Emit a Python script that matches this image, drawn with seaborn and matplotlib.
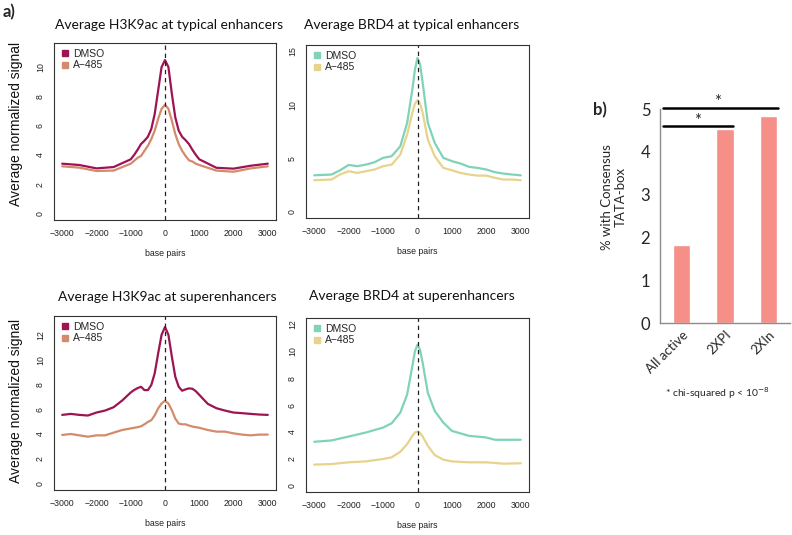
import numpy as np
import pandas as pd
import matplotlib
matplotlib.use("Agg")
import matplotlib.pyplot as plt
from matplotlib.lines import Line2D
import seaborn as sns

# ---------------- data ----------------
x_h3_typ = [-3000, -2500, -2000, -1500, -1000, -900, -800, -700, -600, -500, -400, -300, -200, -100, 0,
            100, 200, 300, 400, 500, 600, 700, 800, 900, 1000, 1500, 2000, 2500, 3000]
h3_typ_dmso = [3.40, 3.31, 3.08, 3.17, 3.70, 4.00, 4.35, 4.74, 4.97, 5.24, 5.77, 6.80, 8.40, 10.00, 10.48,
               10.00, 8.18, 6.57, 5.66, 5.24, 5.01, 4.74, 4.35, 4.00, 3.70, 3.12, 3.06, 3.26, 3.40]
h3_typ_a485 = [3.22, 3.13, 2.90, 2.93, 3.40, 3.60, 3.80, 3.93, 4.28, 4.62, 5.08, 5.66, 6.46, 7.15, 7.43,
               7.15, 6.34, 5.43, 4.74, 4.28, 3.93, 3.63, 3.55, 3.40, 3.31, 2.93, 2.85, 3.08, 3.22]

x_brd4_typ = [-3000, -2500, -2250, -2000, -1750, -1500, -1250, -1000, -750, -500, -300, -150, -75, 0, 75, 150,
              300, 500, 750, 1000, 1250, 1500, 1750, 2000, 2250, 2500, 2750, 3000]
brd4_typ_dmso = [3.40, 3.47, 3.87, 4.37, 4.25, 4.40, 4.62, 5.03, 5.19, 6.12, 8.31, 11.43, 13.30, 14.40, 13.80,
                 12.06, 8.31, 6.44, 5.03, 4.72, 4.50, 4.19, 4.09, 3.94, 3.69, 3.56, 3.47, 3.40]
brd4_typ_a485 = [2.94, 3.00, 3.47, 3.78, 3.62, 3.78, 3.94, 4.25, 4.40, 5.34, 7.22, 9.25, 10.10, 10.43, 10.10,
                 9.25, 6.75, 5.19, 4.09, 3.87, 3.62, 3.47, 3.37, 3.37, 3.16, 3.00, 3.00, 2.94]

x_h3_se = [-3000, -2750, -2500, -2250, -2000, -1750, -1500, -1250, -1000, -900, -800, -700, -600, -500, -400,
           -300, -200, -100, 0, 100, 200, 300, 400, 500, 600, 700, 800, 900, 1000, 1250, 1500, 1750, 2000,
           2250, 2500, 2750, 3000]
h3_se_dmso = [5.54, 5.62, 5.54, 5.49, 5.73, 5.89, 6.16, 6.70, 7.35, 7.55, 7.70, 7.81, 7.54, 7.54, 7.95,
              8.90, 10.50, 12.00, 12.63, 12.00, 10.24, 8.62, 7.81, 7.49, 7.60, 7.68, 7.65, 7.45, 7.16, 6.43,
              6.08, 5.89, 5.73, 5.68, 5.62, 5.57, 5.54]
h3_se_a485 = [3.92, 4.00, 3.89, 3.78, 3.89, 3.89, 4.11, 4.32, 4.45, 4.50, 4.55, 4.62, 4.78, 4.97, 5.11,
              5.51, 6.06, 6.46, 6.68, 6.46, 5.92, 5.24, 4.84, 4.78, 4.78, 4.68, 4.60, 4.55, 4.50, 4.32,
              4.19, 4.19, 4.05, 3.95, 3.89, 3.95, 3.95]

x_brd4_se = [-3000, -2500, -2000, -1500, -1000, -750, -500, -300, -150, -75, 0, 75, 150, 300, 500, 750, 1000,
             1500, 2000, 2250, 2500, 3000]
brd4_se_dmso = [3.26, 3.36, 3.65, 3.95, 4.32, 4.64, 5.43, 6.79, 8.89, 10.00, 10.49, 10.10, 9.14, 6.91, 5.56,
                4.69, 4.07, 3.70, 3.58, 3.41, 3.41, 3.41]
brd4_se_a485 = [1.56, 1.60, 1.73, 1.80, 1.98, 2.10, 2.52, 3.09, 3.70, 3.95, 4.03, 3.92, 3.65, 2.96, 2.27, 1.93,
                1.80, 1.73, 1.73, 1.68, 1.63, 1.66]

conditions = ["DMSO", "A\u2212485"]
panel_titles = ["Average H3K9ac at typical enhancers", "Average BRD4 at typical enhancers",
                "Average H3K9ac at superenhancers", "Average BRD4 at superenhancers"]
x_ticks = [-3000, -2000, -1000, 0, 1000, 2000, 3000]

bar_categories = ["All active", "2XPI", "2XIn"]
bar_values = [1.83, 4.53, 4.83]

# ---------------- style ----------------
sns.set_style("white")
R_FONT = ["Liberation Sans", "DejaVu Sans"]
C_FONT = ["Lato", "DejaVu Sans"]
plt.rcParams["font.family"] = R_FONT

W, H = 792, 535
fig = plt.figure(figsize=(W / 100, H / 100), dpi=100)


def px_axes(l, t, r, b):
    return fig.add_axes([l / W, 1 - b / H, (r - l) / W, (b - t) / H])


col_h3 = ["#9E1452", "#D38B6C"]
col_brd4 = ["#80D3B6", "#E6D38C"]

panels = [
    dict(box=(54, 43, 276, 220), x=x_h3_typ, d=h3_typ_dmso, a=h3_typ_a485, ylim=11.2,
         yt=[0, 2, 4, 6, 8, 10], cols=col_h3, tx=169, ty=25),
    dict(box=(306, 45, 529, 218), x=x_brd4_typ, d=brd4_typ_dmso, a=brd4_typ_a485, ylim=15,
         yt=[0, 5, 10, 15], cols=col_brd4, tx=412, ty=25),
    dict(box=(54, 316, 276, 490), x=x_h3_se, d=h3_se_dmso, a=h3_se_a485, ylim=13,
         yt=[0, 2, 4, 6, 8, 10, 12], cols=col_h3, tx=167, ty=297),
    dict(box=(306, 318, 529, 492), x=x_brd4_se, d=brd4_se_dmso, a=brd4_se_a485, ylim=12,
         yt=[0, 2, 4, 6, 8, 10, 12], cols=col_brd4, tx=412, ty=296),
]

for i, p in enumerate(panels):
    ax = px_axes(*p["box"])
    df = pd.DataFrame({
        "bp": list(p["x"]) * 2,
        "signal": list(p["d"]) + list(p["a"]),
        "cond": [conditions[0]] * len(p["x"]) + [conditions[1]] * len(p["x"]),
    })
    sns.lineplot(data=df, x="bp", y="signal", hue="cond", hue_order=conditions,
                 palette=p["cols"], linewidth=1.6, ax=ax, legend=False)
    for ln in ax.get_lines():
        ln.set_solid_joinstyle("round")
    ax.axvline(0, color="#222222", lw=0.9, ls=(0, (3.5, 3)))
    ax.set_xlim(-3000 - 240, 3000 + 240)
    ym = p["ylim"]
    ax.set_ylim(-0.04 * ym, ym * 1.04)
    ax.set_xticks(x_ticks)
    ax.set_xticklabels([f"{v}".replace("-", "\u2212") for v in x_ticks])
    ax.set_yticks(p["yt"])
    ax.set_yticklabels([str(v) for v in p["yt"]], rotation=90, va="center")
    ax.tick_params(axis="both", direction="out", length=4, width=0.7, color="#333333",
                   labelsize=6.3, labelcolor="#222222", pad=2.5)
    for s in ax.spines.values():
        s.set_color("#333333")
        s.set_linewidth(0.8)
    ax.set_xlabel("base pairs", fontsize=6.3, color="#222222", labelpad=8)
    ax.set_ylabel("")
    handles = [Line2D([], [], marker="s", ls="none", color=c, markersize=4.5) for c in p["cols"]]
    ax.legend(handles, conditions, loc="upper left", frameon=False, fontsize=7.5,
              handletextpad=0.3, handlelength=1.0, borderaxespad=0.25,
              labelspacing=0.15, borderpad=0.3)
    fig.text(p["tx"] / W, 1 - p["ty"] / H, panel_titles[i], fontsize=10,
             family=C_FONT, ha="center", va="center", color="#111111")

for yc in (124, 401):
    fig.text(16 / W, 1 - yc / H, "Average normalized signal", rotation=90, fontsize=10,
             ha="center", va="center", color="#111111")

fig.text(3 / W, 1 - 12 / H, "a)", fontsize=12, fontweight="bold", family=C_FONT,
         ha="left", va="center")

# ---------------- bar chart ----------------
axb = px_axes(660, 109, 790, 323)
bdf = pd.DataFrame({"cat": bar_categories, "val": bar_values})
sns.barplot(data=bdf, x="cat", y="val", color="#F58F88", saturation=1, width=0.4,
            ax=axb)
axb.set_xlim(-0.5, 2.5)
axb.set_ylim(0, 5)
axb.set_yticks([0, 1, 2, 3, 4, 5])
axb.set_yticklabels(["0", "1", "2", "3", "4", "5"], family=C_FONT, fontsize=12)
axb.set_xticks([0.5, 1.5], minor=True)
axb.set_xticks([0, 1, 2])
axb.set_xticklabels(bar_categories, rotation=45, ha="right", va="top",
                    rotation_mode="anchor", family=C_FONT, fontsize=9.5)
axb.tick_params(axis="x", which="major", length=0, pad=4)
axb.tick_params(axis="x", which="minor", length=4, direction="out", color="#8c8c8c", width=0.9)
axb.tick_params(axis="y", length=4, direction="out", color="#8c8c8c", width=0.9, pad=3)
for side in ("top", "right"):
    axb.spines[side].set_visible(False)
for side in ("left", "bottom"):
    axb.spines[side].set_color("#8c8c8c")
    axb.spines[side].set_linewidth(1.0)
axb.set_xlabel("")
axb.set_ylabel("")
fig.text(614 / W, 1 - 197 / H, "% with Consensus\nTATA-box", rotation=90, family=C_FONT,
         fontsize=9.5, ha="center", va="center", linespacing=1.15, multialignment="center")

# significance brackets
axb.plot([-0.43, 1.19], [4.6, 4.6], color="black", lw=1.8, clip_on=False)
axb.text(0.37, 4.72, "*", ha="center", va="center", fontsize=12, family=C_FONT)
axb.plot([-0.43, 2.22], [5.03, 5.03], color="black", lw=1.8, clip_on=False)
axb.text(0.82, 5.17, "*", ha="center", va="center", fontsize=12, family=C_FONT)

fig.text(600 / W, 1 - 110 / H, "b)", fontsize=12, fontweight="bold", family=C_FONT,
         ha="center", va="center")
fig.text(717 / W, 1 - 393 / H, r"* chi-squared p < 10$^{-8}$", fontsize=7.5,
         family=C_FONT, ha="center", va="center")

fig.savefig("out.png", dpi=100)
